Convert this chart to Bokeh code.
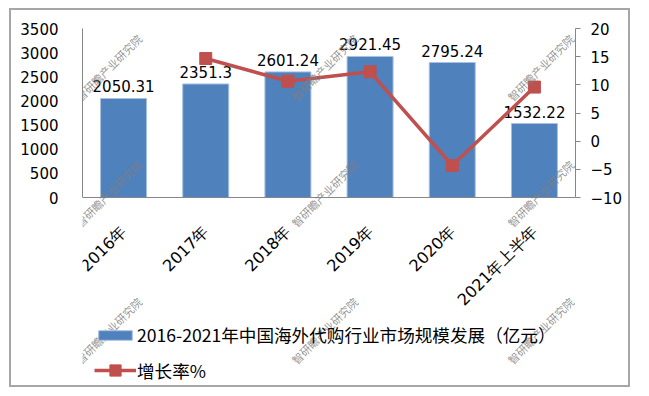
import math
from bokeh.plotting import figure
from bokeh.models import (Range1d, FactorRange, LinearAxis, FixedTicker, Legend, LegendItem,
                          Label, ColumnDataSource)
from bokeh.core.properties import value
from bokeh.embed import file_html
from bokeh.resources import INLINE

categories = ["2016年", "2017年", "2018年", "2019年", "2020年", "2021年上半年"]
market_size = [2050.31, 2351.3, 2601.24, 2921.45, 2795.24, 1532.22]
growth_cats = ["2017年", "2018年", "2019年", "2020年", "2021年上半年"]
growth_rate = [14.68, 10.63, 12.31, -4.32, 9.6]
left_ticks = [0, 500, 1000, 1500, 2000, 2500, 3000, 3500]
right_ticks = [-10, -5, 0, 5, 10, 15, 20]
bar_label = "2016-2021年中国海外代购行业市场规模发展（亿元）"
line_label = "增长率%"
watermark = "智研瞻产业研究院"

# layout constants (canvas pixels)
W, H = 621, 379
FL, FR, FT, FB = 71, 564, 18, 378   # frame
Y0 = 187                             # pixel row of value 0 / -10
L_MAX, R_MIN, R_MAX = 3500, -10, 20
l_min = -L_MAX * (FB - Y0) / (Y0 - FT)
r_min = R_MIN - (R_MAX - R_MIN) * (FB - Y0) / (Y0 - FT)

p = figure(width=W, height=H, x_range=FactorRange(*categories, range_padding=0),
           y_range=Range1d(l_min, L_MAX), output_backend="svg", toolbar_location=None,
           min_border_left=FL, min_border_right=W - FR, min_border_top=FT,
           min_border_bottom=H - FB)
p.styles = {"border": "2px solid #a6a6a6", "margin-left": "9px", "margin-top": "8px"}
p.outline_line_color = None
p.xgrid.grid_line_color = None
p.ygrid.grid_line_color = None
p.background_fill_color = "white"
p.border_fill_color = "white"

p.extra_y_ranges = {"rate": Range1d(r_min, R_MAX)}

src = ColumnDataSource(dict(x=categories, y=market_size, lab=[f"{v:g}" for v in market_size]))
bars = p.vbar(x="x", top="y", width=0.56, source=src, fill_color="#4F81BD",
              line_color="#A9C1DF", line_width=1)
p.text(x="x", y="y", text="lab", source=src, text_align="center", text_baseline="alphabetic",
       y_offset=-12, text_font=value("DejaVu Sans"), text_font_size="15px", text_color="#000000")

lsrc = ColumnDataSource(dict(x=growth_cats, y=growth_rate))
ln = p.line(x="x", y="y", source=lsrc, y_range_name="rate", line_color="#C0504D", line_width=3.5)
mk = p.scatter(x="x", y="y", source=lsrc, y_range_name="rate", marker="square", size=12,
               fill_color="#C0504D", line_color="#C0504D")

# axes
la = p.yaxis[0]
la.ticker = FixedTicker(ticks=left_ticks)
la.bounds = (0, L_MAX)
la.axis_line_color = "#868686"
la.major_tick_line_color = None
la.minor_tick_line_color = None
la.major_label_standoff = 18
la.major_label_text_font = "DejaVu Sans"
la.major_label_text_font_size = "15px"
la.major_label_text_color = "#000000"

ra = LinearAxis(y_range_name="rate", ticker=FixedTicker(ticks=right_ticks), bounds=(R_MIN, R_MAX))
ra.axis_line_color = "#868686"
ra.major_tick_line_color = "#868686"
ra.major_tick_in = 0
ra.major_tick_out = 5
ra.minor_tick_line_color = None
ra.major_label_standoff = 10
ra.major_label_text_font = "DejaVu Sans"
ra.major_label_text_font_size = "15px"
ra.major_label_text_color = "#000000"
p.add_layout(ra, "right")

xa = p.xaxis[0]
xa.fixed_location = 0
xa.axis_line_color = "#868686"
xa.major_tick_line_color = None
xa.minor_tick_line_color = None
xa.major_label_orientation = math.pi / 4
xa.major_label_standoff = 25
xa.major_label_text_font = "DejaVu Sans"
xa.major_label_text_font_size = "16px"
xa.major_label_text_color = "#000000"

# legends
leg1 = Legend(items=[LegendItem(label=bar_label, renderers=[bars])], location=(12, 41),
              glyph_width=42, glyph_height=12, label_standoff=1, label_height=20,
              label_text_font="Noto Sans CJK SC", label_text_font_size="17.6px",
              label_text_color="#000000", margin=0, padding=0, border_line_color=None,
              background_fill_alpha=0)
leg2 = Legend(items=[LegendItem(label=line_label, renderers=[ln, mk])], location=(12, 4),
              glyph_width=42, glyph_height=28, label_standoff=1, label_height=20,
              label_text_font="Noto Sans CJK SC", label_text_font_size="17.6px",
              label_text_color="#000000", margin=0, padding=0, border_line_color=None,
              background_fill_alpha=0)
p.add_layout(leg1, "center")
p.add_layout(leg2, "center")

# watermarks (screen units relative to frame bottom-left)
for wx in [26, 242, 458]:
    for wy in [321, 195, 58]:
        p.add_layout(Label(x=wx, y=wy, x_units="screen", y_units="screen", text=watermark,
                           angle=math.pi / 4, text_align="center", text_baseline="middle",
                           text_font="Noto Sans CJK SC", text_font_size="11px",
                           text_color="#7f7f7f", text_alpha=0.85))

open("out.html", "w").write(file_html(p, INLINE))
